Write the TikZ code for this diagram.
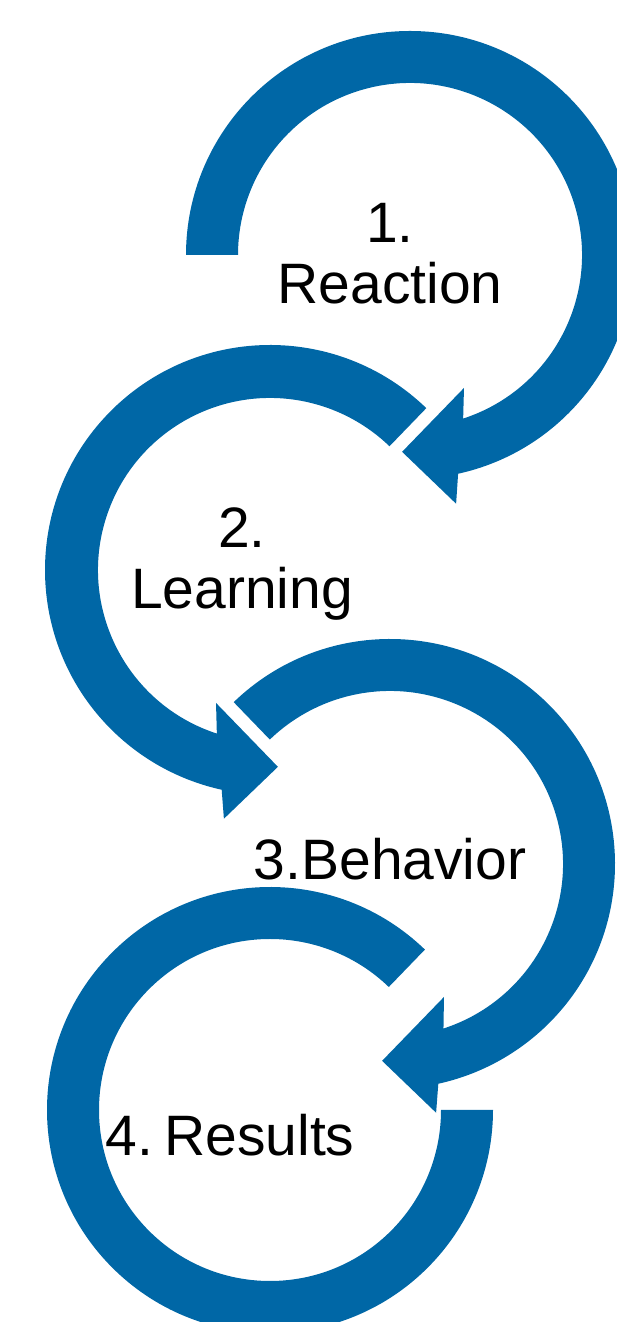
\documentclass[tikz,border=0pt]{standalone}
\usepackage{fontspec}
\setmainfont{Liberation Sans}
\definecolor{arcblue}{RGB}{0,103,166}
\begin{document}
\begin{tikzpicture}[x=1pt,y=1pt,
  arcshape/.style={fill=arcblue, draw=none},
  lbl/.style={font=\fontsize{57}{61}\selectfont, inner sep=0pt, align=center, text=black}]
\useasboundingbox (0,0) rectangle (617,1322);
\clip (0,0) rectangle (617,1322);
% arc 1 (clockwise)
\begin{scope}[shift={(410,1067)}]
\fill[arcshape] (180:224) arc[start angle=180,end angle=-77.6,radius=224]
  -- (-79.5:253) -- (-92.3:197) -- (-67.9:143.5) -- (-72:172)
  arc[start angle=-72,end angle=180,radius=172] -- cycle;
\end{scope}
% arc 2 (counterclockwise)
\begin{scope}[shift={(270,752)}]
\fill[arcshape] (46:225) arc[start angle=46,end angle=257.6,radius=225]
  -- (259.5:253) -- (272.3:197) -- (247.9:143.5) -- (252:172)
  arc[start angle=252,end angle=46,radius=172] -- cycle;
\end{scope}
% arc 3 (clockwise)
\begin{scope}[shift={(390,458)}]
\fill[arcshape] (134:225) arc[start angle=134,end angle=-77.6,radius=225]
  -- (-79.5:253) -- (-92.3:197) -- (-67.9:143.5) -- (-72:173)
  arc[start angle=-72,end angle=134,radius=173] -- cycle;
\end{scope}
% arc 4 (counterclockwise, no head)
\begin{scope}[shift={(270,212)}]
\fill[arcshape] (46:223) arc[start angle=46,end angle=360,radius=223]
  -- (0:171) arc[start angle=360,end angle=46,radius=171] -- cycle;
\end{scope}
% labels
\node[lbl] (t1) at (390,1068) {1.\\Reaction};
\node[lbl] (t2) at (242,758) {2.\\Learning};
\node[lbl, anchor=base] (t3) at (390,442) {3.Behavior};
\node[lbl, anchor=base] (t4) at (230,166) {4.\hspace{0.2em}Results};
\end{tikzpicture}
\end{document}
